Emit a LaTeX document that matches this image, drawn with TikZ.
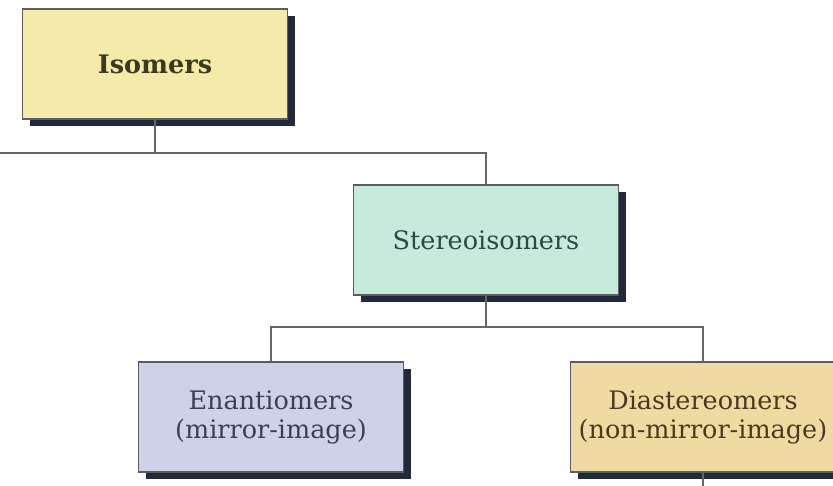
\documentclass[tikz,border=0pt]{standalone}
\usepackage{fontspec}
\setmainfont{DejaVu Serif}
\usetikzlibrary{shadows}
\definecolor{isofill}{HTML}{F4EBAA}
\definecolor{sterfill}{HTML}{C6EBDD}
\definecolor{enfill}{HTML}{CED2E8}
\definecolor{difill}{HTML}{EFDBA2}
\definecolor{shadowc}{HTML}{222A3A}
\definecolor{edgec}{HTML}{5C5C5C}
\definecolor{linec}{HTML}{666666}
\definecolor{isotext}{HTML}{3A3A1E}
\definecolor{stertext}{HTML}{2E4846}
\definecolor{entext}{HTML}{3A3F5C}
\definecolor{ditext}{HTML}{4A3A22}
\tikzset{
  box/.style={draw=edgec, line width=1.2pt, rectangle, minimum width=265pt, minimum height=110pt,
    align=center, inner sep=0pt, font=\fontsize{25.5}{29}\selectfont,
    drop shadow={shadow xshift=7pt, shadow yshift=-7pt, fill=shadowc, opacity=1}},
  conn/.style={draw=linec, line width=1.5pt}
}
\begin{document}
\begin{tikzpicture}[x=1pt, y=-1pt]
\useasboundingbox (0,0) rectangle (833,485);
\clip (0,0) rectangle (833,485);
\coordinate (l1) at (0,153);
\coordinate (j1) at (155,153);
\coordinate (j2) at (486,327);
\coordinate (bot) at (703,490);
\node[box, fill=isofill, text=isotext, font=\fontsize{25.5}{29}\selectfont\bfseries] (iso) at (155,64) {Isomers};
\node[box, fill=sterfill, text=stertext] (ster) at (486,240) {Stereoisomers};
\node[box, fill=enfill, text=entext] (enan) at (271,417) {Enantiomers\\(mirror-image)};
\node[box, fill=difill, text=ditext] (dias) at (703,417) {Diastereomers\\(non-mirror-image)};
\draw[conn] (l1) -- (j1);
\draw[conn] (iso.south) -- (j1) -| (ster.north);
\draw[conn] (ster.south) -- (j2);
\draw[conn] (enan.north) |- (j2) -| (dias.north);
\draw[conn] (dias.south) -- (bot);
\end{tikzpicture}
\end{document}
